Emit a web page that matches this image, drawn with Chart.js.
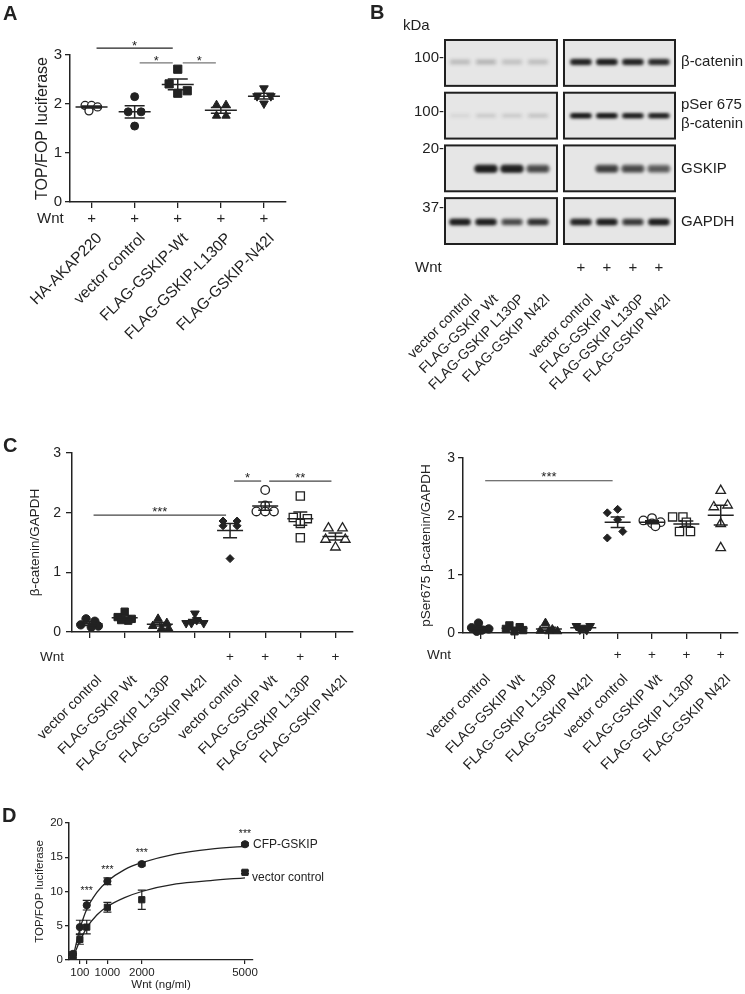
<!DOCTYPE html>
<html><head><meta charset="utf-8">
<script src="https://cdn.jsdelivr.net/npm/chart.js@4"></script>
<style>
html,body{margin:0;padding:0;background:#fff;}
#fig{position:relative;width:745px;height:994px;overflow:hidden;font-family:"Liberation Sans",Arial,sans-serif;color:#222;background:#fff;}
canvas{position:absolute;}
.lt{position:absolute;font-weight:bold;font-size:20px;line-height:20px;}
</style></head><body>
<div id="fig">
<canvas id="cA" width="330" height="345" style="left:0;top:0"></canvas>
<canvas id="cB" width="415" height="395" style="left:330px;top:0"></canvas>
<canvas id="cC1" width="370" height="390" style="left:0;top:400px"></canvas>
<canvas id="cC2" width="375" height="390" style="left:370px;top:400px"></canvas>
<canvas id="cD" width="400" height="214" style="left:0;top:780px"></canvas>
<div class="lt" style="left:3px;top:3px">A</div>
<div class="lt" style="left:370px;top:2px">B</div>
<div class="lt" style="left:3px;top:435px">C</div>
<div class="lt" style="left:2px;top:805px">D</div>
</div>
<script>
// ================= DATA =================
// Panel A
const catA = ['HA-AKAP220', 'vector control', 'FLAG-GSKIP-Wt', 'FLAG-GSKIP-L130P', 'FLAG-GSKIP-N42I'];
const wntA = ['+', '+', '+', '+', '+'];
const valsA = [[1.97, 1.97, 1.94, 1.86], [2.15, 1.84, 1.84, 1.55], [2.71, 2.41, 2.27, 2.22], [1.98, 1.98, 1.76, 1.76], [2.32, 2.16, 2.16, 2.01]];
const meanA = [1.94, 1.84, 2.40, 1.87, 2.16];
const semA = [0.02, 0.125, 0.11, 0.06, 0.06];
const statsA = [{a: 0, b: 2, y: 3.14, text: '*'}, {a: 1, b: 2, y: 2.84, text: '*'}, {a: 2, b: 3, y: 2.84, text: '*'}];

// Panel B (western blot)
const laneB = ['vector control', 'FLAG-GSKIP Wt', 'FLAG-GSKIP L130P', 'FLAG-GSKIP N42I', 'vector control', 'FLAG-GSKIP Wt', 'FLAG-GSKIP L130P', 'FLAG-GSKIP N42I'];
const wntB = ['', '', '', '', '+', '+', '+', '+'];
const blotNames = [['β-catenin'], ['pSer 675', 'β-catenin'], ['GSKIP'], ['GAPDH']];
const kDaMarks = ['100-', '100-', '20-', '37-'];
const bandB = [
  [0.13, 0.15, 0.11, 0.12, 0.88, 0.92, 0.88, 0.82],
  [0.04, 0.08, 0.08, 0.1, 0.97, 0.97, 0.92, 0.9],
  [0, 0.92, 0.9, 0.62, 0, 0.68, 0.62, 0.52],
  [0.92, 0.9, 0.62, 0.78, 0.85, 0.9, 0.72, 0.92]];

// Panel C
const catC = ['vector control', 'FLAG-GSKIP Wt', 'FLAG-GSKIP L130P', 'FLAG-GSKIP N42I', 'vector control', 'FLAG-GSKIP Wt', 'FLAG-GSKIP L130P', 'FLAG-GSKIP N42I'];
const wntC = ['', '', '', '', '+', '+', '+', '+'];
const valsC1 = [[0.22, 0.18, 0.12, 0.10, 0.08], [0.34, 0.25, 0.22, 0.2, 0.19], [0.22, 0.15, 0.1, 0.06, 0.06], [0.31, 0.2, 0.15, 0.15, 0.15],
  [1.86, 1.86, 1.78, 1.78, 1.23], [2.38, 2.12, 2.02, 2.02, 2.02], [2.28, 1.92, 1.9, 1.82, 1.58], [1.74, 1.74, 1.55, 1.55, 1.42]];
const meanC1 = [0.14, 0.24, 0.13, 0.18, 1.70, 2.11, 1.90, 1.60];
const semC1 = [0.03, 0.03, 0.03, 0.03, 0.12, 0.07, 0.11, 0.06];
const statsC1 = [{a: 0, b: 4, y: 1.96, text: '***'}, {a: 4, b: 5, y: 2.53, text: '*'}, {a: 5, b: 7, y: 2.53, text: '**'}];
const valsC2 = [[0.17, 0.09, 0.07, 0.05, 0.03], [0.13, 0.1, 0.07, 0.05, 0.03], [0.17, 0.06, 0.04, 0.03, 0.03], [0.12, 0.12, 0.09, 0.06, 0.05],
  [2.12, 2.06, 1.94, 1.74, 1.63], [1.97, 1.93, 1.9, 1.88, 1.83], [1.99, 1.99, 1.9, 1.74, 1.74], [2.44, 2.19, 2.16, 1.87, 1.46]];
const meanC2 = [0.08, 0.08, 0.07, 0.09, 1.90, 1.90, 1.87, 2.02];
const semC2 = [0.03, 0.02, 0.03, 0.015, 0.09, 0.025, 0.05, 0.17];
const statsC2 = [{a: 0, b: 4, y: 2.61, text: '***'}];

// Panel D
const dX = [0, 200, 400, 1000, 2000, 5000];
const dCfp = [0.9, 4.8, 8.0, 11.5, 14.0, 16.9];
const dCfpErr = [0.3, 1.0, 0.7, 0.5, 0.25, 0.2];
const dVec = [0.6, 3.0, 4.8, 7.7, 8.8, 12.8];
const dVecErr = [0.3, 0.7, 1.0, 0.7, 1.4, 0.2];
const fitX = [0, 200, 400, 700, 1000, 1500, 2000, 3000, 4000, 5000];
const fitCfp = [0.4, 4.5, 7.4, 9.9, 11.5, 13.2, 14.2, 15.5, 16.2, 16.6];
const fitVec = [0.3, 2.8, 4.7, 6.6, 7.8, 9.1, 10.0, 11.1, 11.6, 12.0];
const dTickVals = [200, 400, 1000, 2000, 5000];
const dTickLabels = ['100', '', '1000', '2000', '5000'];
const dStarX = [400, 1000, 2000, 5000];
const dStarY = [10.5, 13.6, 16.1, 18.8];
const dSeries = ['CFP-GSKIP', 'vector control'];

// ================= STYLE =================
const FONT = '"Liberation Sans", Arial, Helvetica, sans-serif';
const INK = '#222222';
Chart.defaults.font.family = FONT;
Chart.defaults.color = INK;

const jitA = [[-0.15, 0, 0.14, -0.06], [0, -0.15, 0.15, 0], [0, -0.2, 0.22, 0], [-0.1, 0.12, 0.12, -0.1], [0, -0.16, 0.16, 0]];
const jitC1 = [[-0.1, 0.15, -0.25, 0.25, 0.05], [0, -0.2, 0.2, -0.1, 0.1], [-0.05, 0.2, -0.2, 0.05, 0.25], [0, 0.05, -0.25, 0.25, -0.1],
  [-0.2, 0.2, -0.2, 0.2, 0], [0, 0, -0.25, 0, 0.25], [0, -0.2, 0.2, 0, 0], [-0.2, 0.2, -0.28, 0.28, 0]];
const jitC2 = [[-0.05, -0.25, 0.25, 0.05, -0.1], [-0.15, 0.15, -0.25, 0.25, 0], [-0.1, 0.1, -0.25, 0.25, 0], [-0.2, 0.2, 0, -0.1, 0.1],
  [0, -0.3, 0, 0.15, -0.3], [0, -0.25, 0.25, 0, 0.1], [-0.4, -0.1, 0, -0.2, 0.12], [0, 0.2, -0.2, 0, 0]];
const mkA = [{shape: 'circle', r: 4, open: true}, {shape: 'circle', r: 4}, {shape: 'rect', r: 5.8}, {shape: 'triangle', r: 4.8}, {shape: 'triangle', r: 5, rot: 180}];
const mkC = [{shape: 'circle', r: 4.2}, {shape: 'rect', r: 5.2}, {shape: 'triangle', r: 5}, {shape: 'triangle', r: 5, rot: 180},
  {shape: 'rectRot', r: 4}, {shape: 'circle', r: 4.3, open: true}, {shape: 'rect', r: 5.8, open: true}, {shape: 'triangle', r: 5.5, open: true}];

// ================= HELPERS =================
function yAxis(o) {
  return {
    type: 'linear', min: o.min, max: o.max,
    ticks: {stepSize: o.step, font: {size: o.tickSize}, color: INK, padding: o.tickPad},
    grid: {display: true, drawOnChartArea: false, drawTicks: true, tickLength: o.tickLen, color: INK, lineWidth: 1.3},
    border: {display: true, color: INK, width: 1.5},
    title: {display: true, text: o.title, font: {size: o.titleSize}, color: INK, padding: {top: o.titlePad, bottom: 0}},
    afterFit: s => { s.width = o.width; }
  };
}
function xCatAxis(cats, tickLen) {
  return {
    type: 'linear', min: -0.5, max: cats.length - 0.5,
    afterBuildTicks: s => { s.ticks = cats.map((_, i) => ({value: i})); },
    ticks: {display: false},
    grid: {display: true, drawOnChartArea: false, drawTicks: true, tickLength: tickLen, color: INK, lineWidth: 1.3},
    border: {display: true, color: INK, width: 1.5},
    afterFit: s => { s.height = 8; }
  };
}
function drawMeanSem(ctx, xs, ys, means, sems, half, cap, lw) {
  ctx.save(); ctx.strokeStyle = INK; ctx.lineWidth = lw;
  means.forEach((m, i) => {
    const px = xs.getPixelForValue(i), py = ys.getPixelForValue(m);
    const t = ys.getPixelForValue(m + sems[i]), b = ys.getPixelForValue(m - sems[i]);
    ctx.beginPath();
    ctx.moveTo(px - half, py); ctx.lineTo(px + half, py);
    ctx.moveTo(px, t); ctx.lineTo(px, b);
    ctx.moveTo(px - cap, t); ctx.lineTo(px + cap, t);
    ctx.moveTo(px - cap, b); ctx.lineTo(px + cap, b);
    ctx.stroke();
  });
  ctx.restore();
}
function drawStats(ctx, xs, ys, stats, st) {
  ctx.save();
  stats.forEach((s, k) => {
    const x1 = xs.getPixelForValue(s.a) + st.inset, x2 = xs.getPixelForValue(s.b) - st.inset;
    const y = ys.getPixelForValue(s.y);
    ctx.strokeStyle = (st.colors && st.colors[k]) || st.color; ctx.lineWidth = 1.2;
    ctx.beginPath(); ctx.moveTo(x1, y); ctx.lineTo(x2, y); ctx.stroke();
    ctx.fillStyle = INK; ctx.font = st.size + 'px ' + FONT; ctx.textAlign = 'center'; ctx.textBaseline = 'alphabetic';
    ctx.fillText(s.text, (x1 + x2) / 2, y - st.gap + 0.585 * st.size);
  });
  ctx.restore();
}
function drawRow(ctx, label, lx, xs, marks, y, size) {
  ctx.save(); ctx.fillStyle = INK; ctx.font = size + 'px ' + FONT; ctx.textBaseline = 'middle';
  ctx.textAlign = 'left'; ctx.fillText(label, lx, y);
  ctx.textAlign = 'center';
  marks.forEach((m, i) => { if (m) ctx.fillText(m, xs[i], y); });
  ctx.restore();
}
function drawRot(ctx, labels, xs, dx, y, size) {
  ctx.save(); ctx.fillStyle = INK; ctx.font = size + 'px ' + FONT;
  labels.forEach((t, i) => {
    ctx.save(); ctx.translate(xs[i] + dx, y); ctx.rotate(-Math.PI / 4);
    ctx.textAlign = 'right'; ctx.textBaseline = 'middle'; ctx.fillText(t, 0, 0); ctx.restore();
  });
  ctx.restore();
}
function dotDatasets(vals, jit, mk) {
  return vals.map((v, i) => ({
    data: v.map((y, j) => ({x: i + jit[i][j], y: y})),
    pointStyle: mk[i].shape, pointRadius: mk[i].r, pointRotation: mk[i].rot || 0,
    pointBackgroundColor: mk[i].open ? '#ffffff' : INK, pointBorderColor: INK,
    pointBorderWidth: mk[i].open ? 1.3 : 1, clip: false
  }));
}
const baseOpts = {responsive: false, devicePixelRatio: 1, animation: false, events: [],
  plugins: {legend: {display: false}, tooltip: {enabled: false}}};

function dotChart(id, P) {
  new Chart(document.getElementById(id), {
    type: 'scatter',
    data: {datasets: dotDatasets(P.vals, P.jit, P.mk)},
    options: Object.assign({}, baseOpts, {
      layout: {padding: P.pad},
      scales: {x: xCatAxis(P.cats, P.xTick), y: yAxis(P.y)}
    }),
    plugins: [{
      id: 'ov_' + id,
      afterDatasetsDraw(chart) {
        const ctx = chart.ctx, xs = chart.scales.x, ys = chart.scales.y;
        drawMeanSem(ctx, xs, ys, P.means, P.sems, P.half, P.cap, 1.5);
        drawStats(ctx, xs, ys, P.stats, P.st);
        const px = P.cats.map((_, i) => xs.getPixelForValue(i));
        drawRow(ctx, 'Wnt', P.wntX, px, P.wnt, P.wntY, P.wntSize);
        drawRot(ctx, P.cats, px, P.labDx, P.labY, P.labSize);
      }
    }]
  });
}

// ================= PANEL A =================
dotChart('cA', {
  cats: catA, wnt: wntA, vals: valsA, means: meanA, sems: semA, stats: statsA, jit: jitA, mk: mkA,
  pad: {left: 0, top: 55, right: 44.5, bottom: 135}, xTick: 6,
  y: {min: 0, max: 3, step: 1, tickSize: 15, tickPad: 3, tickLen: 5, title: 'TOP/FOP luciferase', titleSize: 16, titlePad: 33.4, width: 70},
  half: 16, cap: 10,
  st: {inset: 5, gap: 5.5, size: 13, color: '#777', colors: ['#222', '#777', '#777']},
  wntX: 37, wntY: 219, wntSize: 15, labDx: 8, labY: 236, labSize: 15.5
});

// ================= PANEL C =================
dotChart('cC1', {
  cats: catC, wnt: wntC, vals: valsC1, means: meanC1, sems: semC1, stats: statsC1, jit: jitC1, mk: mkC,
  pad: {left: 0, top: 53, right: 17, bottom: 150}, xTick: 6,
  y: {min: 0, max: 3, step: 1, tickSize: 14, tickPad: 5, tickLen: 6, title: 'β-catenin/GAPDH', titleSize: 13.5, titlePad: 26.9, width: 72},
  half: 13, cap: 7,
  st: {inset: 4, gap: 7, size: 13, color: '#444'},
  wntX: 40, wntY: 257, wntSize: 13.5, labDx: 10, labY: 278, labSize: 14
});
dotChart('cC2', {
  cats: catC, wnt: wntC, vals: valsC2, means: meanC2, sems: semC2, stats: statsC2, jit: jitC2, mk: mkC,
  pad: {left: 0, top: 58, right: 7, bottom: 149}, xTick: 6,
  y: {min: 0, max: 3, step: 1, tickSize: 14, tickPad: 3, tickLen: 5, title: 'pSer675 β-catenin/GAPDH', titleSize: 13.5, titlePad: 47.9, width: 93},
  half: 13, cap: 7,
  st: {inset: 5, gap: 7, size: 13, color: '#444'},
  wntX: 57, wntY: 255, wntSize: 13.5, labDx: 8, labY: 277, labSize: 14
});

// ================= PANEL B =================
const BS = {laneX: [0, 1, 2, 3, 4.65, 5.65, 6.65, 7.65], boxes: [[-0.577, 3.73], [4.0, 8.27]], rowHalf: 0.435,
  bandW: [22, 22, 24, 22], bandH: [6.5, 5.5, 8.5, 7], bandDy: [-1, 0, 0.5, 1],
  markDy: [-5, -3.6, -19.4, -13], nameDy: [[-1], [-10.6, 8.4], [0.6], [1]]};
function drawBand(ctx, cx, cy, w, h, a) {
  if (a <= 0) return;
  ctx.save();
  ctx.filter = 'blur(1.4px)';
  ctx.fillStyle = 'rgba(25,25,25,' + Math.min(1, a * 0.95) + ')';
  ctx.beginPath();
  if (ctx.roundRect) ctx.roundRect(cx - w / 2, cy - h / 2, w, h, h / 2); else ctx.rect(cx - w / 2, cy - h / 2, w, h);
  ctx.fill();
  ctx.filter = 'blur(0.9px)';
  ctx.fillStyle = 'rgba(10,10,10,' + Math.min(1, a * 0.6) + ')';
  ctx.fillRect(cx - w / 2 + 3, cy - h / 4, w - 6, h / 2);
  ctx.restore();
}
new Chart(document.getElementById('cB'), {
  type: 'scatter',
  data: {datasets: []},
  options: Object.assign({}, baseOpts, {
    layout: {padding: {left: 115, top: 40, right: 70, bottom: 151}},
    scales: {
      x: {type: 'linear', display: false, min: -0.577, max: 8.27},
      y: {type: 'linear', display: false, min: -BS.rowHalf, max: 3 + BS.rowHalf, reverse: true}
    }
  }),
  plugins: [{
    id: 'blot',
    afterDraw(chart) {
      const ctx = chart.ctx, xs = chart.scales.x, ys = chart.scales.y;
      const lanePx = BS.laneX.map(v => xs.getPixelForValue(v));
      ctx.save();
      bandB.forEach((row, r) => {
        const yT = ys.getPixelForValue(r - BS.rowHalf), yB = ys.getPixelForValue(r + BS.rowHalf), yc = ys.getPixelForValue(r);
        BS.boxes.forEach(([a, b], k) => {
          const x1 = xs.getPixelForValue(a), x2 = xs.getPixelForValue(b);
          ctx.fillStyle = '#e6e6e6'; ctx.fillRect(x1, yT, x2 - x1, yB - yT);
          ctx.save(); ctx.beginPath(); ctx.rect(x1, yT, x2 - x1, yB - yT); ctx.clip();
          row.forEach((v, l) => { if ((l < 4) === (k === 0)) drawBand(ctx, lanePx[l], yc + BS.bandDy[r], BS.bandW[r], BS.bandH[r], v); });
          ctx.restore();
          ctx.strokeStyle = '#202020'; ctx.lineWidth = 2; ctx.strokeRect(x1, yT, x2 - x1, yB - yT);
        });
        ctx.fillStyle = INK; ctx.font = '15px ' + FONT; ctx.textBaseline = 'middle';
        ctx.textAlign = 'right'; ctx.fillText(kDaMarks[r], xs.getPixelForValue(BS.boxes[0][0]) - 1, yc + BS.markDy[r]);
        ctx.textAlign = 'left';
        blotNames[r].forEach((t, k) => ctx.fillText(t, xs.getPixelForValue(BS.boxes[1][1]) + 6, yc + BS.nameDy[r][k]));
      });
      ctx.textAlign = 'left'; ctx.fillText('kDa', 73, 26);
      ctx.restore();
      drawRow(ctx, 'Wnt', 85, lanePx, wntB, 268, 15);
      drawRot(ctx, laneB, lanePx, 10, 297, 14);
    }
  }]
});

// ================= PANEL D =================
new Chart(document.getElementById('cD'), {
  type: 'scatter',
  data: {datasets: [
    {data: dX.map((x, i) => ({x, y: dCfp[i]})), pointStyle: 'circle', pointRadius: 3.6, pointBackgroundColor: INK, pointBorderColor: INK, clip: false},
    {data: dX.map((x, i) => ({x, y: dVec[i]})), pointStyle: 'rect', pointRadius: 4.4, pointBackgroundColor: INK, pointBorderColor: INK, clip: false},
    {data: fitX.map((x, i) => ({x, y: fitCfp[i]})), showLine: true, pointRadius: 0, borderColor: INK, borderWidth: 1.3, cubicInterpolationMode: 'monotone', fill: false},
    {data: fitX.map((x, i) => ({x, y: fitVec[i]})), showLine: true, pointRadius: 0, borderColor: INK, borderWidth: 1.3, cubicInterpolationMode: 'monotone', fill: false}
  ]},
  options: Object.assign({}, baseOpts, {
    layout: {padding: {left: 0, top: 43, right: 147, bottom: 2}},
    scales: {
      x: {type: 'linear', min: -116, max: 5233,
        afterBuildTicks: s => { s.ticks = dTickVals.map(v => ({value: v})); },
        ticks: {font: {size: 11.5}, color: INK, padding: 2, autoSkip: false, maxRotation: 0, callback: (v, i) => dTickLabels[i]},
        grid: {display: true, drawOnChartArea: false, drawTicks: true, tickLength: 4, color: INK, lineWidth: 1.2},
        border: {display: true, color: INK, width: 1.3},
        title: {display: true, text: 'Wnt (ng/ml)', font: {size: 11.5}, color: INK, padding: {top: 0, bottom: 0}},
        afterFit: s => { s.height = 32; }
      },
      y: yAxis({min: 0, max: 20, step: 5, tickSize: 11.5, tickPad: 2, tickLen: 4, title: 'TOP/FOP luciferase', titleSize: 11.5, titlePad: 33.1, width: 69})
    }
  }),
  plugins: [{
    id: 'ovD',
    afterDatasetsDraw(chart) {
      const ctx = chart.ctx, xs = chart.scales.x, ys = chart.scales.y;
      ctx.save(); ctx.strokeStyle = INK; ctx.lineWidth = 1.2;
      [[dCfp, dCfpErr], [dVec, dVecErr]].forEach(([vals, errs]) => {
        vals.forEach((v, i) => {
          const px = xs.getPixelForValue(dX[i]), t = ys.getPixelForValue(v + errs[i]), b = ys.getPixelForValue(v - errs[i]);
          ctx.beginPath();
          ctx.moveTo(px, t); ctx.lineTo(px, b);
          ctx.moveTo(px - 4, t); ctx.lineTo(px + 4, t);
          ctx.moveTo(px - 4, b); ctx.lineTo(px + 4, b);
          ctx.stroke();
        });
      });
      ctx.fillStyle = INK; ctx.font = '10.5px ' + FONT; ctx.textAlign = 'center'; ctx.textBaseline = 'alphabetic';
      dStarX.forEach((x, i) => ctx.fillText('***', xs.getPixelForValue(x), ys.getPixelForValue(dStarY[i]) + 0.585 * 10.5));
      ctx.font = '12px ' + FONT; ctx.textAlign = 'left'; ctx.textBaseline = 'middle';
      const lx = xs.getPixelForValue(dX[dX.length - 1]);
      ctx.fillText(dSeries[0], lx + 8, ys.getPixelForValue(dCfp[dCfp.length - 1]));
      ctx.fillText(dSeries[1], lx + 7, ys.getPixelForValue(dVec[dVec.length - 1]) + 5);
      ctx.restore();
    }
  }]
});
</script>
</body></html>
